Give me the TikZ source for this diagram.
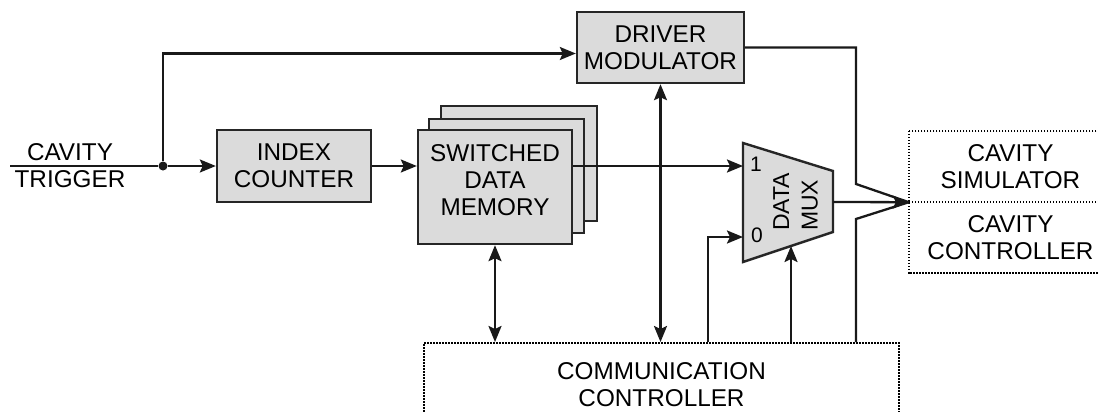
\documentclass[tikz,border=0pt]{standalone}
\usepackage{fontspec}
\setmainfont{Liberation Sans}
\usetikzlibrary{arrows.meta}
\begin{document}
\begin{tikzpicture}[x=1pt,y=-1pt,
  txt/.style={font=\fontsize{24.3}{27}\selectfont, align=center, inner sep=0pt},
  blk/.style={txt, draw=black!85, fill=black!14, line width=2.4pt, rectangle},
  dotline/.style={draw=black, line width=2pt, dash pattern=on 1.6pt off 1.4pt},
  dotbox/.style={txt, dotline, rectangle},
  wire/.style={draw=black!90, line width=2.3pt},
  arr/.style={wire, -{Stealth[length=16pt,width=13pt,inset=3pt]}},
  darr/.style={wire, {Stealth[length=16pt,width=13pt,inset=3pt]}-{Stealth[length=16pt,width=13pt,inset=3pt]}}]
\useasboundingbox (0,0) rectangle (1098,412);
\clip (0,0) rectangle (1098,412);
\fill[white] (0,0) rectangle (1098,412);

% blocks
\node[blk, minimum width=154pt, minimum height=72pt] (idx) at (294,166) {INDEX\\COUNTER};
\node[blk, minimum width=167pt, minimum height=71pt] (drv) at (660.5,47.5) {DRIVER\\MODULATOR};

% stacked memory banks
\node[blk, minimum width=156pt, minimum height=115pt] (mem3) at (519,163.5) {};
\node[blk, minimum width=155pt, minimum height=114pt] (mem2) at (506.5,176) {};
\node[blk, minimum width=154pt, minimum height=114pt] (mem) at (495,187) {};
\node[txt] (memtext) at (495,180) {SWITCHED\\DATA\\MEMORY};

% data multiplexer
\filldraw[draw=black!85, fill=black!14, line width=2.4pt, line join=miter]
  (743,143) coordinate (muxa) -- (833,171) coordinate (muxb)
  -- (833,232) coordinate (muxc) -- (743,262) coordinate (muxd) -- cycle;
\node[txt, align=left, font=\fontsize{23}{28.5}\selectfont, rotate=90] (muxtext) at (795.5,202) {DATA\\MUX};
\node[txt, font=\fontsize{21}{23}\selectfont] (lab1) at (756,164.5) {1};
\node[txt, font=\fontsize{21}{23}\selectfont] (lab0) at (757,235) {0};
\coordinate (in1) at (743,166);
\coordinate (in0) at (743,237);
\coordinate (sel) at (791,246);
\coordinate (out) at (833,202);

% cavity boxes: one dotted frame split by a dotted divider
\node[txt, minimum width=203pt, minimum height=71pt] (sim) at (1010.5,166.5) {CAVITY\\SIMULATOR};
\node[txt, minimum width=203pt, minimum height=71pt] (ctl) at (1010.5,237.5) {CAVITY\\CONTROLLER};
\draw[dotline] (sim.north west) rectangle (ctl.south east);
\draw[dotline] (sim.south west) -- (sim.south east);

% communication controller
\node[dotbox, minimum width=475pt, minimum height=87pt] (comm) at (661.5,386.5) {};
\node[txt] (commtext) at (661.5,384.5) {COMMUNICATION\\CONTROLLER};

% trigger input
\node[txt] (trig) at (70,166) {CAVITY\\TRIGGER};
\coordinate (start) at (10,166);
\node[circle, fill=black!90, inner sep=0pt, minimum size=9pt] (split) at (163,166) {};

% connections
\draw[wire] (start) -- (split);
\draw[arr] (split) -- (idx.west);
\draw[arr] (split) |- ([yshift=-6pt]drv.west);
\draw[arr] (idx.east) -- (idx.east -| mem.west);
\draw[arr] (in1 -| mem.east) -- (in1);
\draw[darr] (mem.south) -- (mem.south |- comm.north);
\draw[darr] (drv.south) -- (drv.south |- comm.north);
\draw[arr] (comm.north -| 708,0) |- (in0);
\draw[arr] (sel |- comm.north) -- (sel);
\draw[wire, line join=miter] (drv.east) -| (856,184) -- (sim.south west);
\draw[wire, line join=miter] (comm.north -| 856,0) -- (856,219) -- (sim.south west);
\draw[arr] (out) -- (sim.south west);
\end{tikzpicture}
\end{document}
